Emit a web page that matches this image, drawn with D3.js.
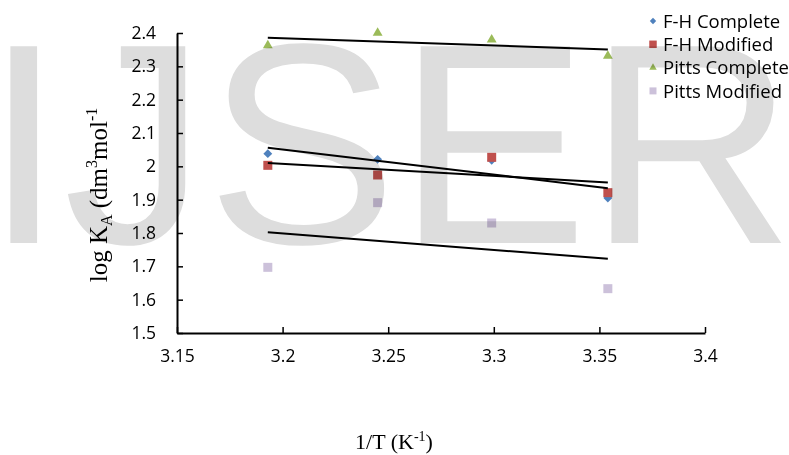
<!DOCTYPE html>
<html>
<head>
<meta charset="utf-8">
<script src="https://cdn.jsdelivr.net/npm/d3@7"></script>
<style>
  body { margin: 0; background: #fff; }
  svg { display: block; }
</style>
</head>
<body>
<div id="chart"></div>
<script>
const width = 789;
const height = 455;

// 1/T values (x 10^3 K^-1) for the four temperatures
const invT = [3.193, 3.245, 3.299, 3.354];
const fhComplete = [2.038, 2.021, 2.018, 1.905];
const fhModified = [2.003, 1.974, 2.027, 1.921];
const pittsComplete = [2.363, 2.400, 2.380, 2.331];
const pittsModified = [1.697, 1.891, 1.830, 1.633];

const seriesNames = ["F-H Complete", "F-H Modified", "Pitts Complete", "Pitts Modified"];
const xTicks = [3.15, 3.2, 3.25, 3.3, 3.35, 3.4];
const yTicks = [1.5, 1.6, 1.7, 1.8, 1.9, 2.0, 2.1, 2.2, 2.3, 2.4];

const series = [
    { name: seriesNames[0], values: fhComplete, color: "#4f81bd", shape: d3.symbolDiamond2, size: 50, legendSize: 26 },
    { name: seriesNames[1], values: fhModified, color: "#c0504d", shape: d3.symbolSquare, size: 81, legendSize: 56 },
    { name: seriesNames[2], values: pittsComplete, color: "#9bbb59", shape: d3.symbolTriangle, size: 42, legendSize: 24 },
    { name: seriesNames[3], values: pittsModified, color: "#ccc1da", shape: d3.symbolSquare, size: 81, legendSize: 49 }
];

const svg = d3.select("#chart")
    .append("svg")
    .attr("width", width)
    .attr("height", height);

const x = d3.scaleLinear().domain([3.15, 3.4]).range([177, 705]);
const y = d3.scaleLinear().domain([1.5, 2.4]).range([333, 33]);

// axes (ticks point inward)
const yAxis = svg.append("g")
    .attr("transform", `translate(${x(3.15)},0)`)
    .call(d3.axisLeft(y).tickValues(yTicks).tickFormat(d3.format("")).tickSizeInner(-6).tickSizeOuter(0).tickPadding(21));

const xAxis = svg.append("g")
    .attr("transform", `translate(0,${y(1.5)})`)
    .call(d3.axisBottom(x).tickValues(xTicks).tickFormat(d3.format("")).tickSizeInner(-6).tickSizeOuter(0).tickPadding(17));

[yAxis, xAxis].forEach(a => {
    a.select(".domain").attr("stroke", "#000").attr("stroke-width", 2);
    a.selectAll(".tick line").attr("stroke", "#000").attr("stroke-width", 1.5);
    a.selectAll(".tick text")
        .attr("fill", "#000")
        .attr("font-family", "'Open Sans', sans-serif")
        .attr("font-size", "17.5px");
});

// markers
series.forEach(s => {
    svg.append("g")
        .selectAll("path")
        .data(s.values)
        .enter()
        .append("path")
        .attr("d", d3.symbol().type(s.shape).size(s.size))
        .attr("transform", (d, i) => `translate(${x(invT[i])},${y(d)})`)
        .attr("fill", s.color);
});

// linear trendlines
function fit(xs, ys) {
    const mx = d3.mean(xs), my = d3.mean(ys);
    const sxy = d3.sum(xs, (v, i) => (v - mx) * (ys[i] - my));
    const sxx = d3.sum(xs, v => (v - mx) * (v - mx));
    const b = sxy / sxx;
    return v => my + b * (v - mx);
}

const xEnds = d3.extent(invT);
series.forEach(s => {
    const f = fit(invT, s.values);
    svg.append("line")
        .attr("x1", x(xEnds[0]))
        .attr("y1", y(f(xEnds[0])))
        .attr("x2", x(xEnds[1]))
        .attr("y2", y(f(xEnds[1])))
        .attr("stroke", "#000")
        .attr("stroke-width", 2);
});

// legend
const legend = svg.append("g").attr("transform", "translate(653,21)");
series.forEach((s, i) => {
    const row = legend.append("g").attr("transform", `translate(0,${i * 23.3})`);
    row.append("path")
        .attr("d", d3.symbol().type(s.shape).size(s.legendSize))
        .attr("fill", s.color);
    row.append("text")
        .attr("x", 10)
        .attr("dy", "0.36em")
        .attr("font-family", "'Open Sans', sans-serif")
        .attr("font-size", "18.5px")
        .attr("fill", "#000")
        .text(s.name);
});

// axis titles
const serif = "'Liberation Serif', 'Times New Roman', serif";
const xTitle = svg.append("text")
    .attr("x", 394)
    .attr("y", 449)
    .attr("text-anchor", "middle")
    .attr("font-family", serif)
    .attr("font-size", "22px")
    .attr("fill", "#000");
xTitle.append("tspan").text("1/T (K");
xTitle.append("tspan").attr("font-size", "14px").attr("dy", -8).text("-1");
xTitle.append("tspan").attr("dy", 8).text(")");

const yTitle = svg.append("text")
    .attr("transform", "translate(107,195) rotate(-90)")
    .attr("text-anchor", "middle")
    .attr("font-family", serif)
    .attr("font-size", "25px")
    .attr("fill", "#000");
yTitle.append("tspan").text("log K");
yTitle.append("tspan").attr("font-size", "16px").attr("dy", 5).text("A");
yTitle.append("tspan").attr("dy", -5).text(" (dm");
yTitle.append("tspan").attr("font-size", "16px").attr("dy", -10).text("3");
yTitle.append("tspan").attr("dy", 10).text("mol");
yTitle.append("tspan").attr("font-size", "16px").attr("dy", -10).text("-1");

// watermark laid over the chart
svg.append("text")
    .attr("x", -16)
    .attr("y", 243)
    .attr("font-family", "'Liberation Sans', Arial, sans-serif")
    .attr("font-size", "286px")
    .attr("fill", "#dddddd")
    .style("mix-blend-mode", "multiply")
    .text("IJSER");
</script>
</body>
</html>
